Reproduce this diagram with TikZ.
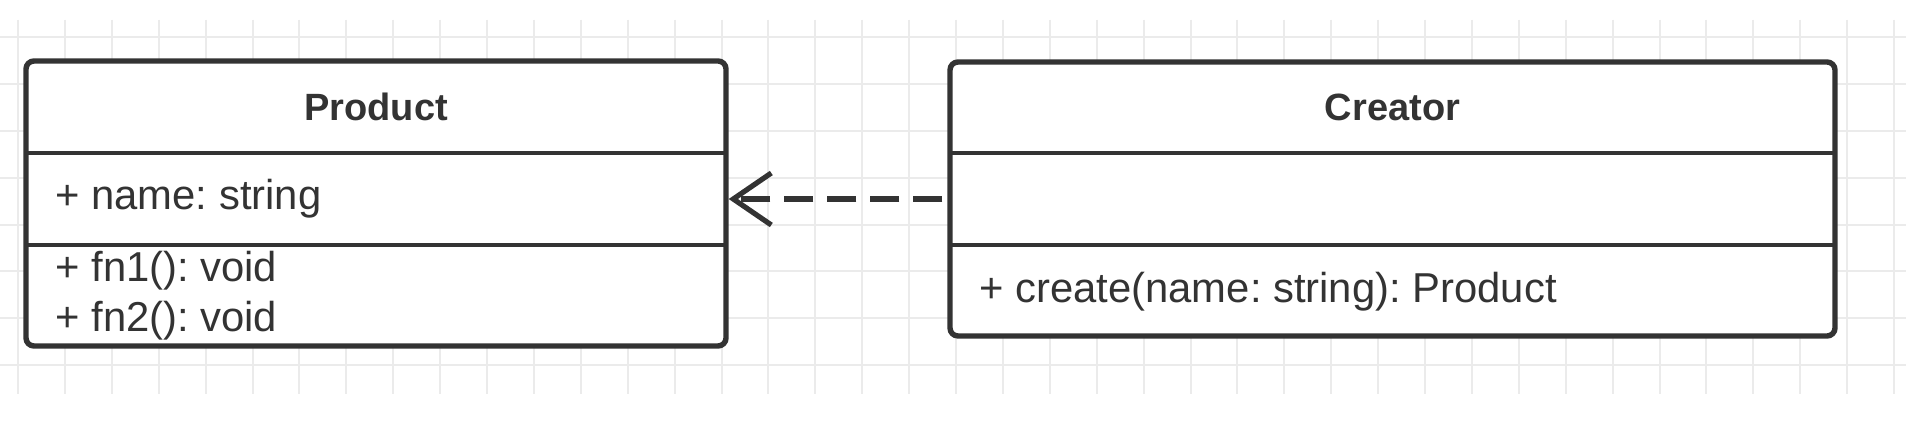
\documentclass[tikz,border=0pt]{standalone}
\usepackage{fontspec}
\setmainfont{Liberation Sans}
\usetikzlibrary{arrows.meta}
\definecolor{ink}{HTML}{333333}
\definecolor{gridc}{HTML}{EBEBEB}
\tikzset{
  classbox/.style={draw=ink, line width=2.7pt, rounded corners=4pt, fill=white, inner sep=0pt},
  divider/.style={draw=ink, line width=2.4pt},
  titletext/.style={text=ink, font=\fontsize{19pt}{22pt}\selectfont\bfseries\frenchspacing, inner sep=0pt},
  membertext/.style={text=ink, font=\fontsize{20.9pt}{24pt}\selectfont\frenchspacing, inner sep=0pt, anchor=base west},
  gridline/.style={draw=gridc, line width=1pt},
  dependency/.style={draw=ink, line width=2.7pt, dash pattern=on 14.5pt off 7pt, dash phase=19pt,
    -{Straight Barb[length=19pt, width=26pt, line width=2.6pt]}}
}
\begin{document}
\begin{tikzpicture}[x=0.5pt, y=-0.5pt]
  \useasboundingbox (0,0) rectangle (1906,422);
  \fill[white] (0,0) rectangle (1906,422);
  % grid
  \foreach \k in {0,...,40} {
    \draw[gridline] ({18+46.9*\k},20) -- ({18+46.9*\k},394);
  }
  \foreach \k in {0,...,7} {
    \draw[gridline] (0,{37+46.9*\k}) -- (1906,{37+46.9*\k});
  }
  % Product class
  \node[classbox, minimum width=350pt, minimum height=142.5pt] (product) at (376,203.5) {};
  \draw[divider] (26,153) -- (726,153);
  \draw[divider] (26,245) -- (726,245);
  \node[titletext] (ptitle) at (376,107) {Product};
  \node[membertext] (pname) at (55,210) {+ name: string};
  \node[membertext] (pfn1) at (55,282) {+ fn1(): void};
  \node[membertext] (pfn2) at (55,331) {+ fn2(): void};
  % Creator class
  \node[classbox, minimum width=442.5pt, minimum height=137pt] (creator) at (1392.5,199) {};
  \draw[divider] (950,153) -- (1835,153);
  \draw[divider] (950,245) -- (1835,245);
  \node[titletext] (ctitle) at (1392.5,107) {Creator};
  \node[membertext] (ccreate) at (979,302) {+ create(name: string): Product};
  % dependency
  \draw[dependency] (creator.west) -- (product.east |- creator.west);
\end{tikzpicture}
\end{document}
